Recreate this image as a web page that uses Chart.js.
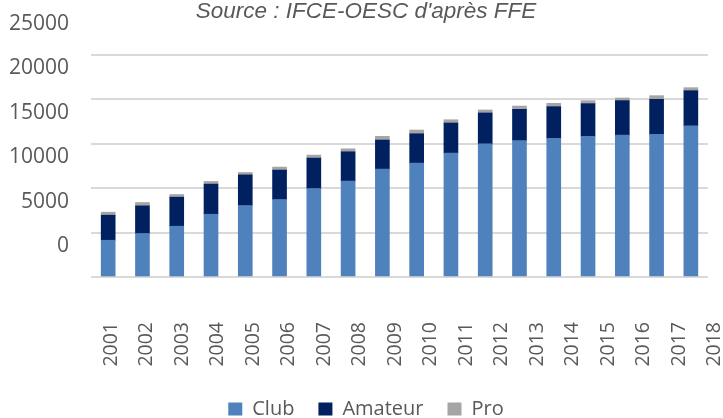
<!DOCTYPE html>
<html>
<head>
<meta charset="utf-8">
<script src="https://cdn.jsdelivr.net/npm/chart.js@4/dist/chart.umd.min.js"></script>
<style>
    html, body { margin: 0; padding: 0; background: #fff; }
    #wrap { width: 723px; height: 418px; }
</style>
</head>
<body>
<div id="wrap"><canvas id="chart"></canvas></div>
<script>
const years = ['2001', '2002', '2003', '2004', '2005', '2006', '2007', '2008', '2009',
    '2010', '2011', '2012', '2013', '2014', '2015', '2016', '2017', '2018'];
const yearTicks = [2001, 2002, 2003, 2004, 2005, 2006, 2007, 2008, 2009,
    2010, 2011, 2012, 2013, 2014, 2015, 2016, 2017, 2018];
const clubValues = [4140, 4900, 5720, 7070, 8050, 8730, 9970, 10800, 12150,
    12830, 13950, 15000, 15360, 15610, 15840, 15990, 16060, 17030];
const amateurValues = [2820, 3110, 3270, 3390, 3450, 3310, 3420, 3300, 3270,
    3300, 3390, 3470, 3520, 3570, 3680, 3870, 3950, 3950];
const proValues = [340, 380, 300, 300, 270, 340, 340, 340, 420,
    420, 370, 340, 370, 380, 340, 300, 410, 340];
const yTicks = [0, 5000, 10000, 15000, 20000, 25000];

const textColor = '#595959';

new Chart(document.getElementById('chart'), {
    type: 'bar',
    data: {
        labels: years,
        datasets: [
            { label: 'Club', data: clubValues, backgroundColor: '#4f81bd' },
            { label: 'Amateur', data: amateurValues, backgroundColor: '#002060' },
            { label: 'Pro', data: proValues, backgroundColor: '#a5a5a5' }
        ]
    },
    options: {
        responsive: true,
        maintainAspectRatio: false,
        animation: false,
        layout: { padding: { left: 9, right: 0, top: 0, bottom: -11 } },
        datasets: { bar: { barThickness: 14 } },
        plugins: {
            title: {
                display: true,
                text: "Source : IFCE-OESC d'après FFE",
                color: textColor,
                font: { family: 'Liberation Sans', size: 22.5, style: 'italic', weight: 'normal', lineHeight: 1 },
                padding: { top: 0, bottom: 32.5 }
            },
            legend: {
                position: 'bottom',
                labels: {
                    color: textColor,
                    font: { family: 'Open Sans', size: 20 },
                    boxWidth: 14,
                    boxHeight: 13,
                    padding: 24
                }
            },
            tooltip: { enabled: false }
        },
        scales: {
            x: {
                stacked: true,
                display: false
            },
            // year labels sit on their own axis, spaced a little wider than the bars
            xl: {
                type: 'linear',
                position: 'bottom',
                offset: false,
                min: 2000.43,
                max: 2017.81,
                afterBuildTicks: axis => {
                    axis.ticks = yearTicks.map(value => ({ value }));
                },
                afterFit: axis => {
                    axis.height = 98;
                    axis.paddingLeft = 0;
                    axis.paddingRight = 15;
                },
                grid: { display: false, offset: false },
                border: { display: false },
                ticks: {
                    autoSkip: false,
                    minRotation: 90,
                    maxRotation: 90,
                    padding: 37,
                    color: textColor,
                    font: { family: 'Open Sans', size: 19.5 },
                    callback: value => years[yearTicks.indexOf(value)]
                }
            },
            y: {
                stacked: true,
                min: 0,
                max: 25000,
                afterBuildTicks: axis => {
                    axis.ticks = yTicks.map(value => ({ value }));
                },
                afterFit: axis => {
                    axis.width -= 22;
                    axis.paddingTop = 0;
                    axis.paddingBottom = 0;
                },
                grid: { color: '#d9d9d9', lineWidth: 2, drawTicks: false },
                border: { display: false },
                ticks: {
                    padding: 22,
                    labelOffset: -31,
                    color: textColor,
                    font: { family: 'Open Sans', size: 21 },
                    callback: value => String(value)
                }
            }
        }
    }
});
</script>
</body>
</html>
